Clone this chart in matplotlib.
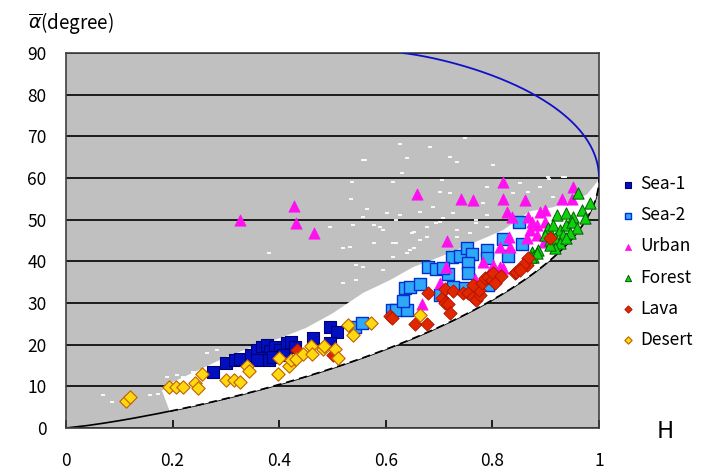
import numpy as np
import matplotlib.pyplot as plt

plt.rcParams['font.family'] = ['Noto Sans CJK JP', 'DejaVu Sans']

sea1_h = [0.275, 0.301, 0.317, 0.326, 0.348, 0.358, 0.367, 0.377, 0.383, 0.392, 0.402, 0.414,
          0.423, 0.430, 0.367, 0.380, 0.389, 0.408, 0.358, 0.464, 0.495, 0.508, 0.495]
sea1_a = [13.5, 15.7, 16.3, 16.5, 17.5, 18.7, 19.5, 19.9, 18.4, 19.5, 18.7, 20.3,
          20.7, 19.5, 16.7, 16.3, 17.1, 17.5, 16.3, 21.5, 24.3, 23.1, 20.3]

sea2_h = [0.542, 0.555, 0.611, 0.620, 0.639, 0.633, 0.636, 0.645, 0.664, 0.680, 0.695, 0.717,
          0.724, 0.739, 0.752, 0.761, 0.755, 0.755, 0.789, 0.789, 0.820, 0.830, 0.849, 0.855,
          0.745, 0.727, 0.702, 0.792, 0.708]
sea2_a = [24.3, 25.3, 28.3, 28.3, 28.3, 30.5, 33.5, 33.9, 34.6, 38.7, 38.1, 37.0,
          41.0, 41.3, 43.1, 41.8, 39.5, 37.1, 42.7, 40.7, 45.3, 41.3, 49.5, 44.2,
          33.5, 33.9, 32.0, 34.3, 38.3]

urban_h = [0.326, 0.428, 0.432, 0.465, 0.659, 0.741, 0.763, 0.715, 0.713, 0.820, 0.819, 0.861,
           0.952, 0.930, 0.950, 0.827, 0.836, 0.867, 0.874, 0.889, 0.899, 0.884, 0.899, 0.871,
           0.883, 0.832, 0.814, 0.833, 0.864, 0.896, 0.783, 0.802, 0.814, 0.820, 0.702, 0.667,
           0.767]
urban_a = [49.9, 53.3, 49.3, 46.7, 56.2, 54.9, 54.7, 45.0, 38.7, 59.1, 54.9, 54.6,
           57.8, 54.9, 54.9, 51.9, 50.7, 50.7, 49.5, 51.9, 52.3, 48.7, 49.5, 47.5,
           46.3, 45.9, 43.5, 43.5, 45.5, 44.7, 39.9, 39.1, 38.7, 38.3, 34.9, 29.8,
           35.7]

forest_h = [0.961, 0.984, 0.921, 0.939, 0.952, 0.969, 0.974, 0.905, 0.914, 0.927, 0.939, 0.949,
            0.958, 0.946, 0.933, 0.899, 0.908, 0.917, 0.927, 0.939, 0.917, 0.908, 0.874, 0.886,
            0.877, 0.883, 0.872]
forest_a = [56.5, 54.1, 51.1, 51.5, 50.7, 52.3, 50.3, 47.9, 48.7, 47.5, 48.7, 49.5,
            47.9, 46.7, 46.3, 46.3, 45.1, 45.5, 44.3, 45.5, 43.1, 43.9, 42.3, 42.7,
            41.1, 41.9, 41.1]

lava_h = [0.607, 0.611, 0.655, 0.677, 0.680, 0.705, 0.711, 0.717, 0.720, 0.711, 0.727, 0.745,
          0.755, 0.764, 0.770, 0.777, 0.774, 0.764, 0.780, 0.786, 0.792, 0.799, 0.802, 0.805,
          0.817, 0.842, 0.845, 0.864, 0.867, 0.908, 0.858, 0.852, 0.500, 0.433]
lava_a = [26.9, 26.3, 25.0, 25.0, 32.3, 31.1, 29.9, 29.8, 27.5, 33.3, 33.0, 32.3,
          32.3, 31.5, 30.7, 31.9, 33.1, 34.3, 34.9, 35.9, 36.3, 35.5, 37.1, 34.7,
          36.5, 37.1, 37.5, 39.1, 40.7, 45.5, 39.1, 37.9, 17.5, 18.7]

desert_h = [0.113, 0.121, 0.194, 0.206, 0.220, 0.242, 0.248, 0.255, 0.301, 0.315, 0.326, 0.339,
            0.344, 0.397, 0.400, 0.419, 0.422, 0.432, 0.445, 0.460, 0.462, 0.482, 0.484, 0.505,
            0.511, 0.530, 0.538, 0.572, 0.664]
desert_a = [6.6, 7.4, 9.9, 9.9, 9.9, 10.9, 9.5, 13.0, 11.5, 11.5, 11.1, 15.0,
            13.7, 13.0, 16.7, 15.0, 16.3, 16.5, 17.8, 19.8, 17.8, 18.9, 19.8, 18.9,
            16.7, 24.7, 22.3, 25.1, 27.2]

# scattered white pixels (all image pixels), sparse part
pix_h = [0.558, 0.630, 0.705, 0.733, 0.536, 0.614, 0.534, 0.564, 0.602, 0.627, 0.664, 0.689,
         0.720, 0.677, 0.649, 0.664, 0.614, 0.595, 0.577, 0.539, 0.495, 0.520, 0.380, 0.545,
         0.614, 0.639, 0.708, 0.727, 0.695, 0.733, 0.677, 0.652, 0.749, 0.627, 0.683, 0.561,
         0.639, 0.720, 0.802, 0.905, 0.933, 0.914, 0.889, 0.852, 0.789, 0.702, 0.839, 0.907,
         0.936, 0.867, 0.783, 0.770, 0.789, 0.758, 0.558, 0.589, 0.620, 0.652, 0.702, 0.733,
         0.770, 0.789, 0.533, 0.577, 0.620, 0.645, 0.558, 0.520, 0.545, 0.595, 0.070, 0.086,
         0.158, 0.173, 0.189, 0.208, 0.220, 0.239, 0.264, 0.283]
pix_a = [64.2, 61.3, 59.5, 63.9, 59.1, 59.1, 54.9, 52.5, 51.5, 51.1, 51.9, 53.1,
         56.3, 48.3, 46.7, 45.1, 44.3, 47.5, 48.7, 48.7, 48.3, 43.1, 42.1, 39.1,
         41.1, 41.9, 50.3, 51.5, 49.1, 45.9, 45.9, 43.1, 69.5, 68.2, 67.4, 64.2,
         64.7, 65.0, 63.1, 60.3, 60.3, 55.5, 57.9, 58.7, 57.9, 56.7, 56.3, 59.7,
         60.3, 56.7, 53.9, 49.1, 48.3, 46.7, 50.7, 48.3, 49.9, 47.1, 49.5, 47.5,
         49.9, 51.1, 43.5, 44.3, 44.3, 42.7, 38.7, 34.7, 35.5, 37.9, 7.9, 6.3,
         7.9, 8.2, 12.3, 12.7, 12.3, 13.5, 17.9, 18.7]

# upper edge of the dense pixel cloud
cloud_h = [0.18, 0.20, 0.25, 0.30, 0.35, 0.40, 0.45, 0.50, 0.557, 0.608, 0.651, 0.70,
           0.764, 0.82, 0.87, 0.914, 0.977, 0.996, 1.0]
cloud_a = [9.0, 11.0, 14.0, 17.0, 19.5, 21.5, 24.0, 27.5, 32.4, 35.5, 38.6, 41.0,
           44.4, 47.5, 52.0, 53.0, 56.0, 59.0, 60.0]

x_labels = ['0', '0.2', '0.4', '0.6', '0.8', '1']


def entropy(p):
    p = p / p.sum(axis=0)
    t = np.where(p > 0, -p * np.log(np.where(p > 0, p, 1)) / np.log(3), 0)
    return t.sum(axis=0)


# feasible region boundaries
m = np.linspace(0, 1, 300)
low_h = entropy(np.vstack([np.ones_like(m), m, m]))
low_a = 90 * 2 * m / (1 + 2 * m)
m2 = np.linspace(0.5, 1, 300)
up_h = entropy(np.vstack([2 * m2 - 1, np.ones_like(m2), np.ones_like(m2)]))
up_a = 180 / (2 * m2 + 1)

fig = plt.figure(figsize=(7.05, 4.71), dpi=100)
ax = fig.add_axes([66 / 705, 43 / 471, 533 / 705, 375 / 471])
ax.set_facecolor('#c0c0c0')

ax.plot(low_h, low_a, color='black', lw=1.2, zorder=1)
sel = low_h >= cloud_h[0]
poly_h = np.concatenate([low_h[sel], cloud_h[::-1]])
poly_a = np.concatenate([low_a[sel], cloud_a[::-1]])
ax.fill(poly_h, poly_a, color='white', lw=0, zorder=2)
ax.plot(low_h[sel], low_a[sel], color='black', lw=1.2, ls=(0, (5, 3)), zorder=3)
ax.scatter(pix_h, pix_a, marker='_', s=8, c='white', linewidths=1.3, zorder=2)
ax.plot(up_h, up_a, color='#1010c8', lw=1.3, zorder=3)

ms = 66
ax.scatter(sea1_h, sea1_a, marker='s', s=ms, c='#0010c0', edgecolors='#000070', linewidths=0.8,
           label='Sea-1', zorder=4)
ax.scatter(sea2_h, sea2_a, marker='s', s=ms, c='#30a8f8', edgecolors='#0030d0', linewidths=1.0,
           label='Sea-2', zorder=4)
ax.scatter(urban_h, urban_a, marker='^', s=ms, c='#ff10f0', edgecolors='#ff10f0', linewidths=0.5,
           label='Urban', zorder=4)
ax.scatter(forest_h, forest_a, marker='^', s=ms, c='#10d010', edgecolors='#006000', linewidths=0.7,
           label='Forest', zorder=4)
ax.scatter(lava_h, lava_a, marker='D', s=ms * 0.7, c='#e02800', edgecolors='#b01000', linewidths=0.6,
           label='Lava', zorder=4)
ax.scatter(desert_h, desert_a, marker='D', s=ms * 0.7, c='#ffd810', edgecolors='#c06000',
           linewidths=0.8, label='Desert', zorder=4)

ax.set_xlim(0, 1)
ax.set_ylim(0, 90)
ax.set_yticks(np.arange(0, 91, 10))
ax.set_xticks(np.linspace(0, 1, 6))
ax.set_xticklabels(x_labels)
ax.yaxis.grid(True, color='black', lw=1.2)
ax.grid(False, axis='x')
for g in ax.get_ygridlines():
    g.set_zorder(1.5)
ax.tick_params(axis='x', direction='in', length=6, width=1.2, pad=17, labelsize=12.5)
ax.tick_params(axis='y', length=0, pad=14, labelsize=12.5)
for s in ax.spines.values():
    s.set_color('#404040')
    s.set_linewidth(1.2)

fig.text(28 / 705, 1 - 23 / 471, r'$\overline{\alpha}$(degree)', fontsize=13.5, va='center', ha='left')
fig.text(665 / 705, 1 - 432 / 471, 'H', fontsize=17, va='center', ha='center')

ax.legend(loc='center left', bbox_to_anchor=(612 / 705, 1 - 262 / 471), bbox_transform=fig.transFigure,
          frameon=False, markerscale=0.55, handletextpad=0.2, labelspacing=0.75, fontsize=12.5,
          borderaxespad=0, handlelength=1.0)

fig.savefig('out.png', dpi=100)
